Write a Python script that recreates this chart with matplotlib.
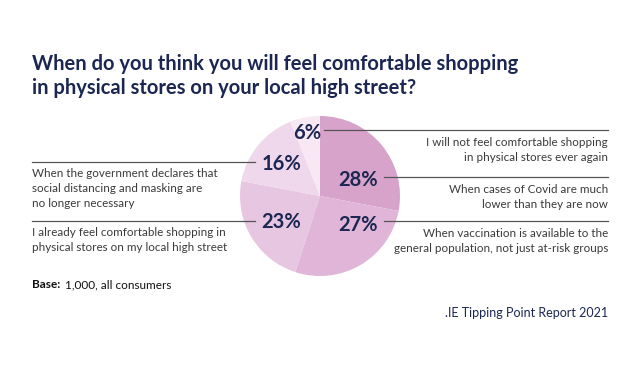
import matplotlib.pyplot as plt

# Data
answers = [
    "I will not feel comfortable shopping\nin physical stores ever again",
    "When cases of Covid are much\nlower than they are now",
    "When vaccination is available to the\ngeneral population, not just at-risk groups",
    "I already feel comfortable shopping in\nphysical stores on my local high street",
    "When the government declares that\nsocial distancing and masking are\nno longer necessary",
]
shares = [6, 28, 27, 23, 16]
pct_labels = ["6%", "28%", "27%", "23%", "16%"]

# pie order (clockwise from 12 o'clock)
pie_order = [1, 2, 3, 4, 0]
colors = {1: "#d8a3ca", 2: "#e0b5d8", 3: "#e7c6e1", 4: "#f0d8ec", 0: "#f8e8f4"}

navy = "#1b2752"
grey = "#3a3a3a"
plt.rcParams['font.family'] = ['Lato', 'DejaVu Sans']

W, H = 640, 368
fig = plt.figure(figsize=(W / 100, H / 100), dpi=100)


def px(x, y):
    return x / W, 1 - y / H


# Pie
ax = fig.add_axes([240 / W, (H - 276) / H, 160 / W, 160 / H])
ax.pie([shares[i] for i in pie_order], colors=[colors[i] for i in pie_order],
       startangle=90, counterclock=False, radius=1.0,
       wedgeprops=dict(linewidth=0))
ax.set_xlim(-1, 1)
ax.set_ylim(-1, 1)
ax.set_aspect('equal')
ax.axis('off')

# Title
fig.text(*px(32, 64), "When do you think you will feel comfortable shopping",
         fontsize=14.5, fontweight='bold', color=navy, va='center', ha='left')
fig.text(*px(32, 88), "in physical stores on your local high street?",
         fontsize=14.5, fontweight='bold', color=navy, va='center', ha='left')

# Percent labels (text position in pixels)
pct_pos = {0: (307, 133), 1: (358, 180), 2: (358, 225), 3: (281, 222), 4: (282, 164)}
for i, (x, y) in pct_pos.items():
    fig.text(*px(x, y), pct_labels[i], fontsize=14.5, fontweight='bold',
             color=navy, ha='center', va='center')

# Leader lines and answer texts
lines = {0: (324, 130), 1: (384, 177), 2: (384, 221), 3: (32, 221), 4: (32, 162)}
for i, (x0, y) in lines.items():
    if x0 > 300:
        fig.add_artist(plt.Line2D([x0 / W, 608 / W], [1 - y / H, 1 - y / H],
                                  color="#555555", lw=0.9))
        fig.text(*px(608, y + 7), answers[i], fontsize=8.4, color=grey,
                 ha='right', va='top', linespacing=1.45)
    else:
        fig.add_artist(plt.Line2D([x0 / W, 255 / W], [1 - y / H, 1 - y / H],
                                  color="#555555", lw=0.9))
        fig.text(*px(32, y + 6), answers[i], fontsize=8.4, color=grey,
                 ha='left', va='top', linespacing=1.45)

# Footer
fig.text(*px(32, 285), "Base:", fontsize=8.5, fontweight='bold',
         color="#111111", ha='left', va='center')
fig.text(*px(65, 285), "1,000, all consumers", fontsize=8.5,
         color="#111111", ha='left', va='center')
fig.text(*px(608, 313), ".IE Tipping Point Report 2021", fontsize=9,
         color=navy, ha='right', va='center')

fig.savefig("out.png", dpi=100, facecolor="white")
